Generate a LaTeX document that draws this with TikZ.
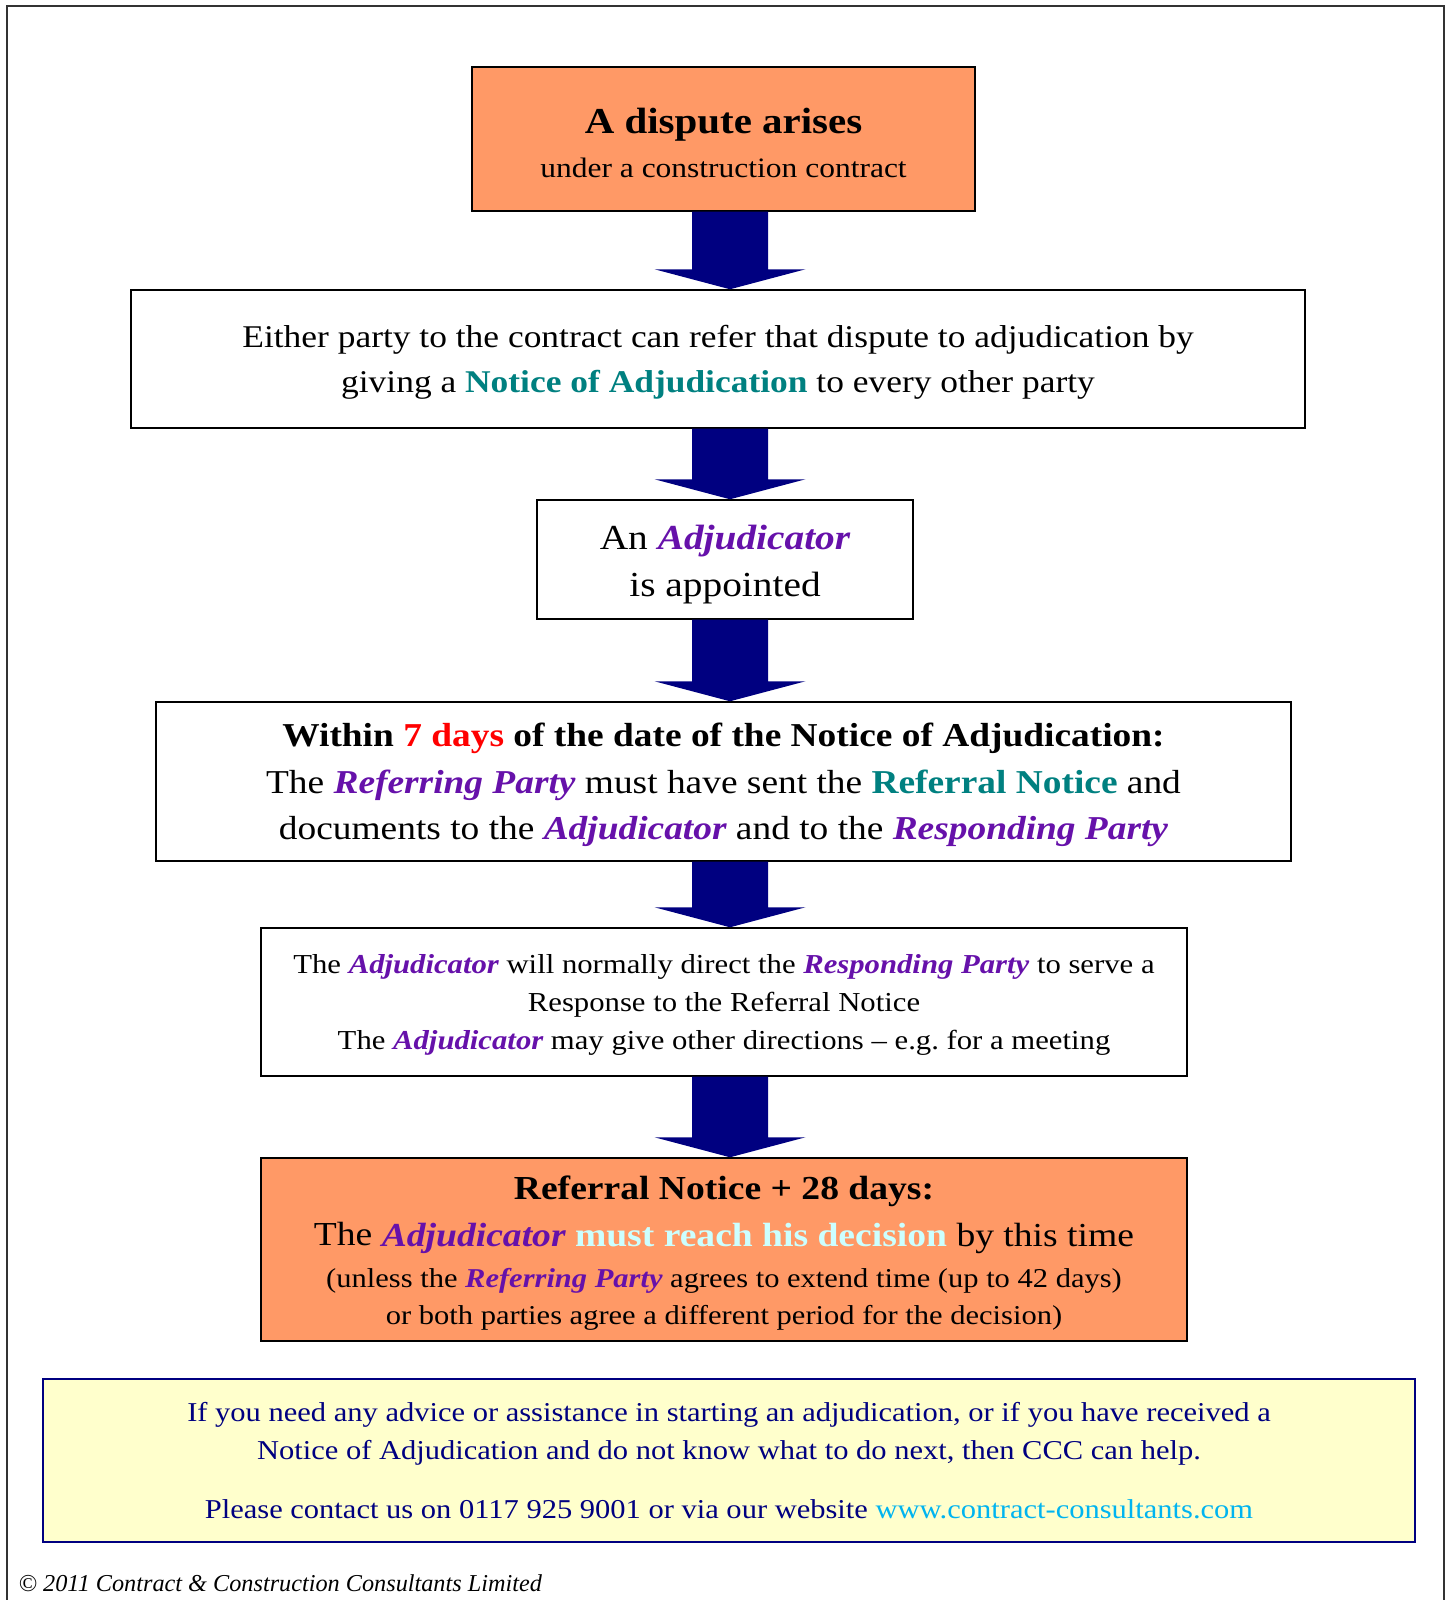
\documentclass[tikz,border=0pt]{standalone}
\usepackage{fontspec}
\setmainfont{Liberation Serif}[FakeStretch=1.12]
\newfontfamily\copyfont{Liberation Serif}
\usepackage{xcolor}
\usetikzlibrary{calc}

\definecolor{boxorange}{RGB}{255,153,102}
\definecolor{arrownavy}{RGB}{0,0,128}
\definecolor{termteal}{RGB}{0,128,128}
\definecolor{partypurple}{RGB}{102,17,170}
\definecolor{decisioncyan}{RGB}{204,255,255}
\definecolor{helpyellow}{RGB}{255,255,204}
\definecolor{linkblue}{RGB}{0,180,240}

\newcommand{\party}[1]{\textcolor{partypurple}{\bfseries\itshape #1}}
\newcommand{\term}[1]{\textcolor{termteal}{\bfseries #1}}
% taller first line, nudges the text block down a little
\newcommand{\topstrut}[1][0.92em]{\rule{0pt}{#1}}

% big navy arrow from one box down to the next
\newcommand{\stagearrow}[2]{%
  \coordinate (from) at (#1.south -| ax);
  \coordinate (to) at (#2.north -| ax);
  \fill[arrownavy] ($(from)+(-0.38,0)$) -- ($(to)+(-0.38,0.2)$)
    -- ($(to)+(-0.755,0.2)$) -- (to) -- ($(to)+(0.755,0.2)$)
    -- ($(to)+(0.38,0.2)$) -- ($(from)+(0.38,0)$) -- cycle;}

\tikzset{
  stagebox/.style={draw=black, line width=0.4pt, align=center, inner sep=0pt},
  hotbox/.style={stagebox, fill=boxorange},
  helpbox/.style={draw=arrownavy, line width=0.6pt, fill=helpyellow, align=center,
    inner sep=0pt, text=arrownavy}
}

\begin{document}
\begin{tikzpicture}
  \useasboundingbox (0,0) rectangle (14.5,16);
  % page frame
  \draw[line width=0.5pt, black!80] (0.07,0) -- (0.07,15.94) -- (14.44,15.94) -- (14.44,0);
  % arrow axis
  \coordinate (ax) at (7.3,0);

  % stages
  \node[hotbox, minimum width=5.03cm, minimum height=1.44cm,
        font=\fontsize{8.0}{12.4}\selectfont] (dispute) at (7.235,14.61)
    {{\fontsize{10.4}{12}\selectfont\bfseries\topstrut A dispute arises}\\
     under a construction contract};
  \node[stagebox, minimum width=11.74cm, minimum height=1.38cm,
        font=\fontsize{9.0}{12.8}\selectfont] (notice) at (7.18,12.41)
    {\topstrut Either party to the contract can refer that dispute to adjudication by\\
     giving a \term{Notice of Adjudication} to every other party};
  \node[stagebox, minimum width=3.76cm, minimum height=1.19cm,
        font=\fontsize{10.0}{13.3}\selectfont] (appoint) at (7.25,10.405)
    {\topstrut[1.0em]An \party{Adjudicator}\\ is appointed};
  \node[stagebox, minimum width=11.35cm, minimum height=1.59cm,
        font=\fontsize{9.5}{13.3}\selectfont] (referral) at (7.235,8.185)
    {{\bfseries\topstrut Within \textcolor{red}{7 days} of the date of the Notice of Adjudication:}\\
     The \party{Referring Party} must have sent the \term{Referral Notice} and\\
     documents to the \party{Adjudicator} and to the \party{Responding Party}};
  \node[stagebox, minimum width=9.26cm, minimum height=1.48cm,
        font=\fontsize{7.8}{10.8}\selectfont] (response) at (7.24,5.98)
    {\topstrut The \party{Adjudicator} will normally direct the \party{Responding Party} to serve a\\
     Response to the Referral Notice\\
     The \party{Adjudicator} may give other directions -- e.g.\ for a meeting};
  \node[hotbox, minimum width=9.26cm, minimum height=1.83cm,
        font=\fontsize{7.75}{10.5}\selectfont] (decision) at (7.24,3.505)
    {{\fontsize{9.55}{13.3}\selectfont\bfseries\topstrut Referral Notice + 28 days:}\\[2.8pt]
     {\fontsize{9.55}{13.3}\selectfont The \party{Adjudicator}
      \textcolor{decisioncyan}{\bfseries must reach his decision} by this time}\\[1.4pt]
     (unless the \party{Referring Party} agrees to extend time (up to 42 days)\\
     or both parties agree a different period for the decision)};

  % arrows
  \stagearrow{dispute}{notice}
  \stagearrow{notice}{appoint}
  \stagearrow{appoint}{referral}
  \stagearrow{referral}{response}
  \stagearrow{response}{decision}

  % help note
  \node[helpbox, minimum width=13.72cm, minimum height=1.63cm,
        font=\fontsize{7.75}{10.8}\selectfont] (help) at (7.29,1.395)
    {If you need any advice or assistance in starting an adjudication, or if you have received a\\
     Notice of Adjudication and do not know what to do next, then CCC can help.\\[5.9pt]
     Please contact us on 0117 925 9001 or via our website \textcolor{linkblue}{www.contract-consultants.com}};

  % copyright line
  \node[anchor=base west, inner sep=0pt, font=\copyfont\fontsize{6.9}{8}\selectfont\itshape] (copy) at (0.18,0.08)
    {\copyright{} 2011 Contract \& Construction Consultants Limited};
\end{tikzpicture}
\end{document}
